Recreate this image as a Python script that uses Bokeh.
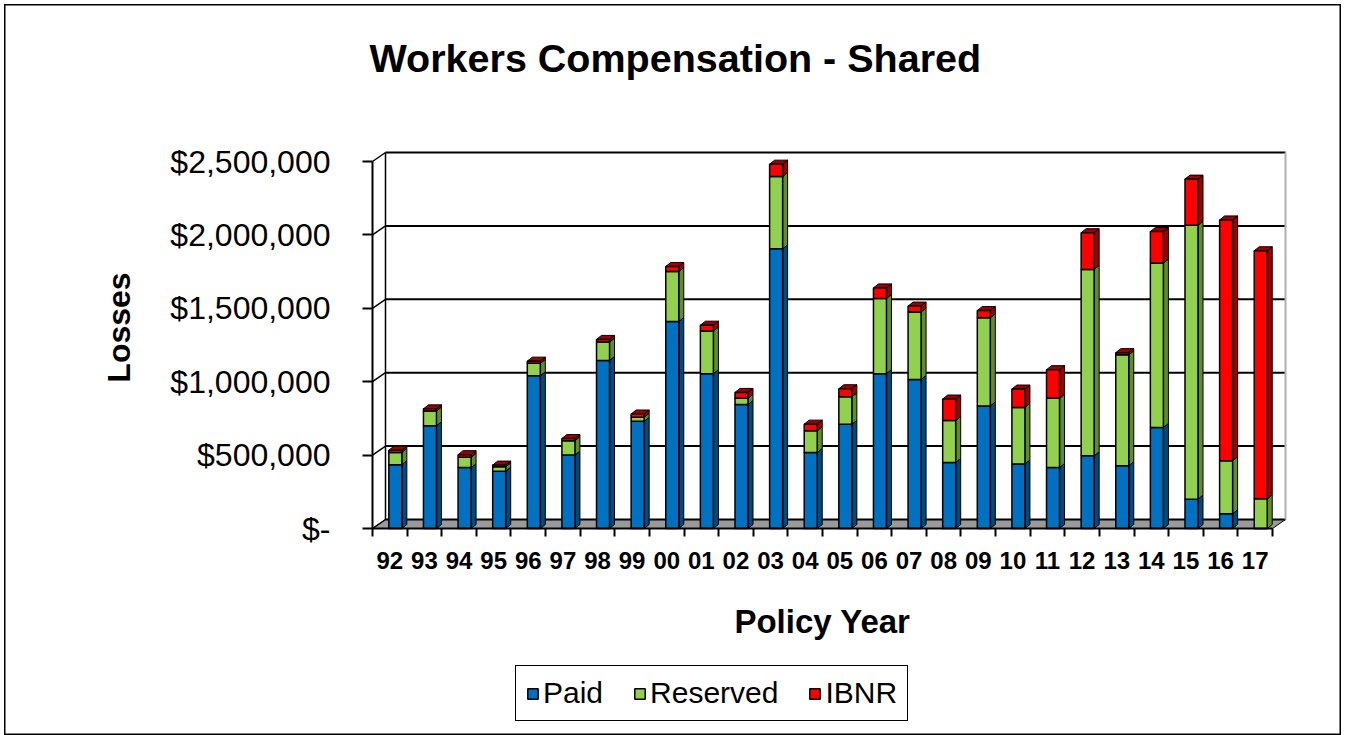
import math
from bokeh.plotting import figure
from bokeh.models import (Range1d, FixedTicker, Legend, LegendItem, Label,
                          ColumnDataSource)
from bokeh.transform import dodge
from bokeh.embed import file_html
from bokeh.resources import INLINE

# ---- data ----
years = ["92", "93", "94", "95", "96", "97", "98", "99", "00", "01", "02", "03", "04",
         "05", "06", "07", "08", "09", "10", "11", "12", "13", "14", "15", "16", "17"]
paid = [435000, 700000, 415000, 390000, 1040000, 500000, 1145000, 730000, 1410000,
        1055000, 845000, 1905000, 518000, 710000, 1055000, 1015000, 450000, 835000,
        440000, 415000, 495000, 428000, 688000, 200000, 100000, 0]
reserved = [83000, 100000, 70000, 30000, 85000, 98000, 125000, 28000, 340000,
            290000, 42000, 492000, 148000, 187000, 512000, 460000, 285000, 600000,
            385000, 472000, 1270000, 755000, 1120000, 1865000, 362000, 202000]
ibnr = [15000, 15000, 18000, 12000, 15000, 15000, 18000, 22000, 35000,
        40000, 40000, 85000, 45000, 55000, 72000, 40000, 147000, 50000,
        125000, 195000, 250000, 15000, 215000, 315000, 1640000, 1690000]
series = ["Paid", "Reserved", "IBNR"]
y_ticks = [0, 500000, 1000000, 1500000, 2000000, 2500000]
y_tick_labels = ["$-", "$500,000", "$1,000,000", "$1,500,000", "$2,000,000", "$2,500,000"]
title_text = "Workers Compensation - Shared"
x_title = "Policy Year"
y_title = "Losses"

front_colors = ["#0070C0", "#92D050", "#FF0000"]
side_colors = ["#004A80", "#5E8C2E", "#A00000"]
cap_color = "#9C0000"
FONT = "Liberation Sans"

# ---- layout (page pixels, canvas offset by the CSS margin) ----
OX, OY = 4, 4
W, H = 1337, 731
PL, PR, PT, PB = 372 - OX, 1272 - OX, 161 - OY, 528 - OY   # plot area (front plane)
YMAX = y_ticks[-1]
n = len(years)
ux = (PR - PL) / n                          # px per category
uy = (PB - PT) / YMAX                       # px per value unit

x_range = Range1d(-PL / ux, (W - PL) / ux)
y_range = Range1d(-(H - PB) / uy, PB / uy)

p = figure(width=W, height=H, x_range=x_range, y_range=y_range, title=None,
           output_backend="svg", toolbar_location=None,
           min_border_left=0, min_border_right=0, min_border_top=0, min_border_bottom=0,
           styles={"margin-left": f"{OX}px", "margin-top": f"{OY}px"})
p.background_fill_color = "white"
p.border_fill_color = "white"
p.outline_line_color = "black"
p.outline_line_width = 2
p.xgrid.visible = False
p.ygrid.visible = False

# pseudo-3D offsets (data units)
wdx, wdy = 13 / ux, 9 / uy      # back wall depth
sdx, sdy = 5 / ux, 4 / uy       # bar depth

# floor
p.patch([0, n, n + wdx, wdx], [0, 0, wdy, wdy], fill_color="#9A9A9A",
        line_color="black", line_width=1)
# back wall lines
p.segment(x0=[wdx] * len(y_ticks), y0=[t + wdy for t in y_ticks],
          x1=[n + wdx] * len(y_ticks), y1=[t + wdy for t in y_ticks],
          line_color="black", line_width=2)
p.segment(x0=[0] * len(y_ticks), y0=y_ticks, x1=[wdx] * len(y_ticks),
          y1=[t + wdy for t in y_ticks], line_color="black", line_width=1.5)
p.segment(x0=[wdx, n + wdx], y0=[wdy, wdy], x1=[wdx, n + wdx], y1=[YMAX + wdy, YMAX + wdy],
          line_color=["black", "#B0B0B0"], line_width=[1.5, 2])

# bars
pos = [i + 0.5 for i in range(n)]
src = ColumnDataSource(dict(x=pos, year=years, Paid=paid, Reserved=reserved, IBNR=ibnr))
BW, BOFF = 0.376, 0.16

side_xs, side_ys, side_c = [], [], []
cap_xs, cap_ys = [], []
for i in range(n):
    xl = pos[i] + BOFF - BW / 2
    xr = pos[i] + BOFF + BW / 2
    base = 0
    for k, vals in enumerate([paid, reserved, ibnr]):
        top = base + vals[i]
        if vals[i] > 0:
            side_xs.append([xr, xr + sdx, xr + sdx, xr])
            side_ys.append([base, base + sdy, top + sdy, top])
            side_c.append(side_colors[k])
        base = top
    cap_xs.append([xl, xr, xr + sdx, xl + sdx])
    cap_ys.append([base, base, base + sdy, base + sdy])

p.patches(side_xs, side_ys, fill_color=side_c, line_color="black", line_width=1)
p.patches(cap_xs, cap_ys, fill_color=cap_color, line_color="black", line_width=1)
fronts = p.vbar_stack(series, x=dodge("x", BOFF, range=p.x_range), width=BW,
                      color=front_colors, line_color="black", line_width=1.5, source=src)

# axes
yax = p.yaxis[0]
yax.fixed_location = 0
yax.bounds = (0, YMAX)
yax.ticker = FixedTicker(ticks=y_ticks)
yax.major_label_overrides = {t: l for t, l in zip(y_ticks, y_tick_labels)}
yax.major_label_text_font = FONT
yax.major_label_text_font_size = "32px"
yax.major_label_text_color = "black"
yax.major_tick_out = 10
yax.major_tick_in = 0
yax.minor_tick_line_color = None
yax.major_label_standoff = 32
yax.axis_line_width = 2
yax.major_tick_line_width = 2

xax = p.xaxis[0]
xax.fixed_location = 0
xax.bounds = (0, n)
xax.ticker = FixedTicker(ticks=pos, minor_ticks=list(range(n + 1)))
xax.major_label_overrides = {x: y for x, y in zip(pos, years)}
xax.major_label_text_font = FONT
xax.major_label_text_font_size = "24px"
xax.major_label_text_font_style = "bold"
xax.major_label_text_color = "black"
xax.major_tick_line_color = None
xax.major_tick_out = 8
xax.minor_tick_out = 8
xax.minor_tick_in = 0
xax.minor_tick_line_width = 2
xax.minor_tick_line_color = "black"
xax.major_label_standoff = 15
xax.axis_line_width = 2
xax.axis_label = x_title
xax.axis_label_text_font = FONT
xax.axis_label_text_font_size = "33px"
xax.axis_label_text_font_style = "bold"
xax.axis_label_text_color = "black"
xax.axis_label_standoff = 31

# title and y-axis title
p.add_layout(Label(x=369 - OX, y=H - (57 - OY), x_units="screen", y_units="screen",
                   text=title_text, text_font=FONT, text_font_size="39.5px",
                   text_font_style="bold", text_color="black", text_align="left",
                   text_baseline="middle"))
p.add_layout(Label(x=118 - OX, y=H - (327 - OY), x_units="screen", y_units="screen",
                   text=y_title, angle=math.pi / 2, text_font=FONT, text_font_size="32px",
                   text_font_style="bold", text_color="black", text_align="center",
                   text_baseline="middle"))

# legend
legend = Legend(items=[LegendItem(label=s, renderers=[r]) for s, r in zip(series, fronts)],
                orientation="horizontal", location=(515 - OX, H - (721 - OY)))
legend.label_text_font = FONT
legend.label_text_font_size = "30px"
legend.label_text_color = "black"
legend.glyph_width = 13
legend.glyph_height = 13
legend.label_standoff = 4
legend.spacing = 30
legend.padding = 10
legend.margin = 0
legend.border_line_color = "black"
legend.border_line_alpha = 1
legend.border_line_width = 1.5
legend.background_fill_color = "white"
legend.background_fill_alpha = 1
p.add_layout(legend, "center")

open("out.html", "w").write(file_html(p, INLINE))
